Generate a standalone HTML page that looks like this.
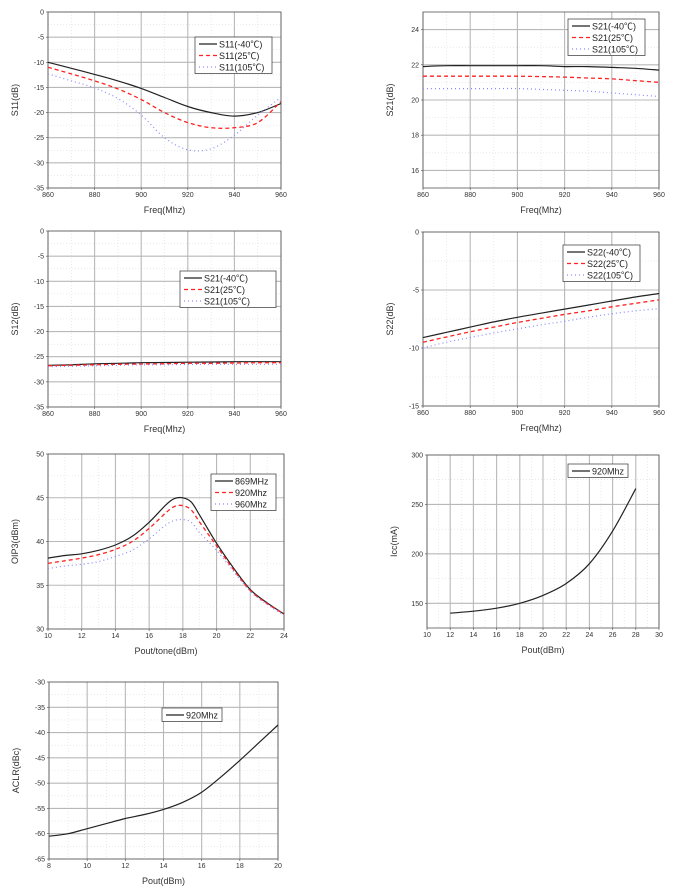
<!DOCTYPE html>
<html><head><meta charset="utf-8"><style>
html,body{margin:0;padding:0;background:#fff;}
svg{display:block;font-family:"Liberation Sans","Noto Sans CJK SC",sans-serif;}
</style></head><body>
<svg id="root" width="688" height="895" viewBox="0 0 688 895" xmlns="http://www.w3.org/2000/svg"></svg>
<script>
const freqX=[860,870,880,890,900,910,920,930,940,950,960];
const s11Cold=[-10,-11.2,-12.4,-13.7,-15.2,-17,-18.8,-20,-20.7,-20,-18.2];
const s11Room=[-11,-12.3,-13.7,-15.3,-17.4,-20,-22,-23,-23,-22,-17.8];
const s11Hot=[-12.3,-13.7,-15.1,-17.2,-20.5,-25,-27.4,-27.2,-24.5,-20.5,-17];
const s21Cold=[21.9,21.95,21.95,21.95,21.95,21.95,21.9,21.9,21.85,21.8,21.7];
const s21Room=[21.35,21.35,21.35,21.35,21.35,21.33,21.3,21.25,21.2,21.1,21.0];
const s21Hot=[20.65,20.65,20.65,20.65,20.65,20.6,20.55,20.5,20.4,20.3,20.2];
const s12Cold=[-26.7,-26.6,-26.4,-26.3,-26.2,-26.15,-26.1,-26.05,-26,-26,-26];
const s12Room=[-26.8,-26.7,-26.6,-26.5,-26.45,-26.4,-26.3,-26.3,-26.25,-26.2,-26.2];
const s12Hot=[-27,-26.9,-26.8,-26.7,-26.6,-26.6,-26.55,-26.5,-26.5,-26.5,-26.5];
const s22Cold=[-9.1,-8.65,-8.2,-7.75,-7.35,-7,-6.65,-6.3,-5.95,-5.6,-5.3];
const s22Room=[-9.5,-9.05,-8.6,-8.2,-7.8,-7.45,-7.1,-6.8,-6.45,-6.15,-5.85];
const s22Hot=[-10,-9.5,-9.1,-8.7,-8.35,-8,-7.7,-7.35,-7.05,-6.8,-6.6];
const oipX=[10,11,12,13,14,15,16,17,17.5,18,18.5,19,20,21,22,23,24];
const oip869=[38.1,38.4,38.6,39,39.6,40.6,42.2,44.2,44.9,45,44.5,43,39.8,37,34.5,33,31.7];
const oip920=[37.5,37.8,38.1,38.5,39.1,40,41.5,43.3,44,44.1,43.6,42.2,39.5,36.8,34.4,32.9,31.7];
const oip960=[36.9,37.2,37.4,37.7,38.3,39,40.3,41.9,42.4,42.5,42.2,41,39,36.6,34.3,32.8,31.6];
const iccX=[12,14,16,18,20,22,24,26,28];
const iccY=[140,142,145,150,158,170,190,223,266];
const aclrX=[8,9,10,11,12,13,14,15,16,17,18,19,20];
const aclrY=[-60.5,-60,-59,-58,-57,-56.2,-55.2,-53.8,-51.8,-48.8,-45.5,-42,-38.5];
const freqTicks=[860,880,900,920,940,960];

const NS="http://www.w3.org/2000/svg";
const root=document.getElementById('root');
function mk(tag,attrs,parent){const e=document.createElementNS(NS,tag);for(const k in attrs)e.setAttribute(k,attrs[k]);(parent||root).appendChild(e);return e;}
const STY=[{stroke:'#222',dash:'',w:1.2},{stroke:'#f22',dash:'4,3',w:1.3},{stroke:'#88f',dash:'1,3',w:1.2}];
function smooth(pts){
  let d='M'+pts[0][0].toFixed(1)+','+pts[0][1].toFixed(1);
  for(let i=0;i<pts.length-1;i++){
    const p0=pts[i-1]||pts[i],p1=pts[i],p2=pts[i+1],p3=pts[i+2]||p2;
    const c1=[p1[0]+(p2[0]-p0[0])/6,p1[1]+(p2[1]-p0[1])/6];
    const c2=[p2[0]-(p3[0]-p1[0])/6,p2[1]-(p3[1]-p1[1])/6];
    d+=' C'+c1.map(v=>v.toFixed(1)).join(',')+' '+c2.map(v=>v.toFixed(1)).join(',')+' '+p2.map(v=>v.toFixed(1)).join(',');
  }
  return d;
}
function chart(c){
  const g=mk('g',{});
  
  
  const sx=v=>c.x0+(v-c.xr[0])/(c.xr[1]-c.xr[0])*(c.x1-c.x0);
  const sy=v=>c.y1-(v-c.yr[0])/(c.yr[1]-c.yr[0])*(c.y1-c.y0);
  for(let i=0;i<c.xt.length-1;i++){const m=(c.xt[i]+c.xt[i+1])/2;mk('line',{x1:sx(m),x2:sx(m),y1:c.y0,y2:c.y1,stroke:'#ddd','stroke-width':0.6,'stroke-dasharray':'1,2'},g);}
  for(let i=0;i<c.yt.length-1;i++){const m=(c.yt[i]+c.yt[i+1])/2;mk('line',{x1:c.x0,x2:c.x1,y1:sy(m),y2:sy(m),stroke:'#ddd','stroke-width':0.6,'stroke-dasharray':'1,2'},g);}
  c.xt.forEach(v=>{mk('line',{x1:sx(v),x2:sx(v),y1:c.y0,y2:c.y1,stroke:'#b8b8b8','stroke-width':1.1},g);
    const t=mk('text',{x:sx(v),y:c.y1+9,'font-size':7,'text-anchor':'middle',fill:'#333'},g);t.textContent=v;
    
    mk('line',{x1:sx(v),x2:sx(v),y1:c.y1,y2:c.y1+2,stroke:'#444','stroke-width':0.6},g);});
  c.yt.forEach(v=>{mk('line',{x1:c.x0,x2:c.x1,y1:sy(v),y2:sy(v),stroke:'#b8b8b8','stroke-width':1.1},g);
    const t=mk('text',{x:c.x0-4,y:sy(v)+2.5,'font-size':7,'text-anchor':'end',fill:'#333'},g);t.textContent=v;
    
    mk('line',{x1:c.x0-2,x2:c.x0,y1:sy(v),y2:sy(v),stroke:'#444','stroke-width':0.6},g);});
  const fr=mk('rect',{x:c.x0,y:c.y0,width:c.x1-c.x0,height:c.y1-c.y0,fill:'none',stroke:'#555','stroke-width':0.8},g);
  
  const xl=mk('text',{x:(c.x0+c.x1)/2,y:c.y1+25,'font-size':9,'text-anchor':'middle',fill:'#333'},g);xl.textContent=c.xlab;
  
  const yx=c.x0-30,yy=(c.y0+c.y1)/2;
  const yl=mk('text',{x:yx,y:yy,'font-size':9,'text-anchor':'middle',fill:'#333',transform:`rotate(-90 ${yx} ${yy})`},g);yl.textContent=c.ylab;
  
  c.series.forEach((s,i)=>{const st=STY[i];
    const p=mk('path',{d:smooth(c.xs.map((x,j)=>[sx(x),sy(s.y[j])])),fill:'none',stroke:st.stroke,'stroke-width':st.w,'stroke-dasharray':st.dash},g);
    });
  const L=c.leg;
  const lr=mk('rect',{x:L[0],y:L[1],width:L[2],height:c.series.length*11.5+2,fill:'#fff',stroke:'#333','stroke-width':0.7},g);
  
  c.series.forEach((s,i)=>{const st=STY[i];const yy=L[1]+7+i*11.5;
    mk('line',{x1:L[0]+4,x2:L[0]+22,y1:yy,y2:yy,stroke:st.stroke,'stroke-width':st.w,'stroke-dasharray':st.dash},g);
    const t=mk('text',{x:L[0]+24,y:yy+3.5,'font-size':9,fill:'#222'},g);t.textContent=s.n;
    });
}
const r=(a,b,s)=>{const o=[];for(let v=a;v<=b+1e-9;v+=s)o.push(v);return o;};
chart({name:'s11-chart',x0:48,x1:281,y0:12,y1:188,xr:[860,960],yr:[-35,0],xt:freqTicks,yt:r(-35,0,5),xs:freqX,xlab:'Freq(Mhz)',ylab:'S11(dB)',leg:[195,37,77],
 series:[{n:'S11(-40℃)',y:s11Cold},{n:'S11(25℃)',y:s11Room},{n:'S11(105℃)',y:s11Hot}]});
chart({name:'s21-chart',x0:423,x1:659,y0:12,y1:188,xr:[860,960],yr:[15,25],xt:freqTicks,yt:[16,18,20,22,24],xs:freqX,xlab:'Freq(Mhz)',ylab:'S21(dB)',leg:[568,19,77],
 series:[{n:'S21(-40℃)',y:s21Cold},{n:'S21(25℃)',y:s21Room},{n:'S21(105℃)',y:s21Hot}]});
chart({name:'s12-chart',x0:48,x1:281,y0:231,y1:407,xr:[860,960],yr:[-35,0],xt:freqTicks,yt:r(-35,0,5),xs:freqX,xlab:'Freq(Mhz)',ylab:'S12(dB)',leg:[180,271,96],
 series:[{n:'S21(-40℃)',y:s12Cold},{n:'S21(25℃)',y:s12Room},{n:'S21(105℃)',y:s12Hot}]});
chart({name:'s22-chart',x0:423,x1:659,y0:232,y1:406,xr:[860,960],yr:[-15,0],xt:freqTicks,yt:[-15,-10,-5,0],xs:freqX,xlab:'Freq(Mhz)',ylab:'S22(dB)',leg:[563,245,77],
 series:[{n:'S22(-40℃)',y:s22Cold},{n:'S22(25℃)',y:s22Room},{n:'S22(105℃)',y:s22Hot}]});
chart({name:'oip3-chart',x0:48,x1:284,y0:454,y1:629,xr:[10,24],yr:[30,50],xt:r(10,24,2),yt:r(30,50,5),xs:oipX,xlab:'Pout/tone(dBm)',ylab:'OIP3(dBm)',leg:[211,474,65],
 series:[{n:'869MHz',y:oip869},{n:'920Mhz',y:oip920},{n:'960Mhz',y:oip960}]});
chart({name:'icc-chart',x0:427,x1:659,y0:455,y1:628,xr:[10,30],yr:[125,300],xt:r(10,30,2),yt:[150,200,250,300],xs:iccX,xlab:'Pout(dBm)',ylab:'Icc(mA)',leg:[568,464,60],
 series:[{n:'920Mhz',y:iccY}]});
chart({name:'aclr-chart',x0:49,x1:278,y0:682,y1:859,xr:[8,20],yr:[-65,-30],xt:r(8,20,2),yt:r(-65,-30,5),xs:aclrX,xlab:'Pout(dBm)',ylab:'ACLR(dBc)',leg:[162,708,60],
 series:[{n:'920Mhz',y:aclrY}]});
</script>
</body></html>
